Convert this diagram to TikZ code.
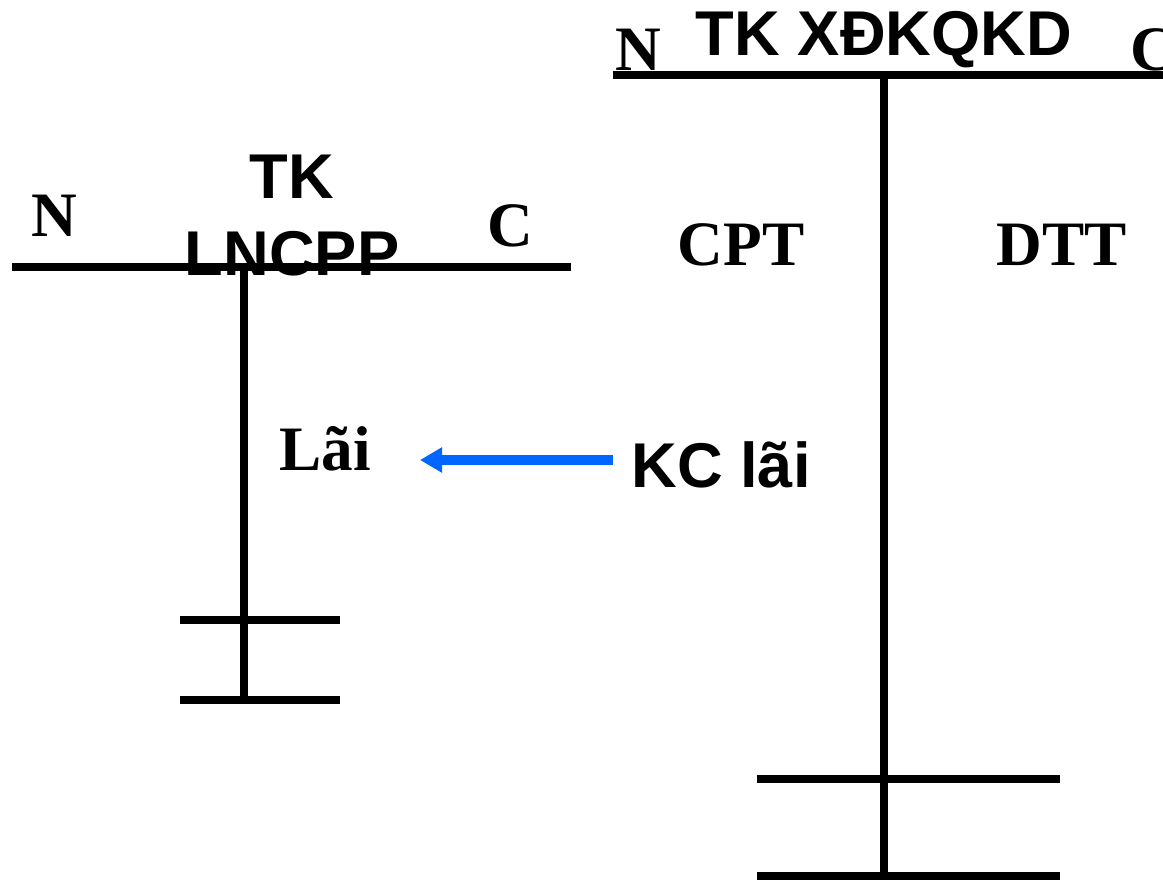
\documentclass[tikz,border=0pt]{standalone}
\usepackage{fontspec}
\setmainfont{Liberation Serif}
\setsansfont{Liberation Sans}
\usetikzlibrary{arrows.meta}
\definecolor{arrowblue}{HTML}{0066FF}
\tikzset{
  tline/.style={line width=2pt},
  tvert/.style={line width=2.2pt},
  side/.style={font=\fontsize{18}{20}\selectfont\bfseries, anchor=base, inner sep=0pt},
  title/.style={font=\fontsize{18}{20}\selectfont\sffamily\bfseries, anchor=base, inner sep=0pt},
  moveto/.style={draw=arrowblue, line width=3.1pt, -{Triangle[length=0.22cm,width=0.24cm]}}
}
\begin{document}
\begin{tikzpicture}
    \useasboundingbox (0,0) rectangle (11.63,-8.83);
    % TK LNCPP
    \draw[tline] (0.12,-2.67) -- (5.71,-2.67);
    \draw[tvert] (2.44,-2.67) -- (2.44,-7.00);
    \draw[tline] (1.80,-6.20) -- (3.40,-6.20);
    \draw[tline] (1.80,-7.00) -- (3.40,-7.00);
    \node[side] (lnN) at (0.54,-2.36) {N};
    \node[side] (lnC) at (5.10,-2.46) {C};
    \node[title] (lnTK) at (2.92,-1.98) {TK};
    \node[title] (lnName) at (2.92,-2.75) {LNCPP};
    \node[side] (lai) at (3.25,-4.70) {Lãi};
    % TK XDKQKD
    \draw[tline] (6.13,-0.75) -- (11.70,-0.75);
    \draw[tvert] (8.84,-0.75) -- (8.84,-8.76);
    \draw[tline] (7.57,-7.79) -- (10.60,-7.79);
    \draw[tline] (7.57,-8.76) -- (10.60,-8.76);
    \node[side] (kdN) at (6.38,-0.70) {N};
    \node[side, anchor=base west] (kdC) at (11.30,-0.70) {C};
    \node[title] (kdName) at (8.84,-0.55) {TK XĐKQKD};
    \node[side] (cpt) at (7.41,-2.65) {CPT};
    \node[side] (dtt) at (10.62,-2.65) {DTT};
    \node[title] (kc) at (7.21,-4.87) {KC lãi};
    % ket chuyen
    \coordinate (kcFrom) at (6.13,-4.60);
    \coordinate (kcTo) at (4.20,-4.60);
    \draw[moveto] (kcFrom) -- (kcTo);
\end{tikzpicture}
\end{document}
